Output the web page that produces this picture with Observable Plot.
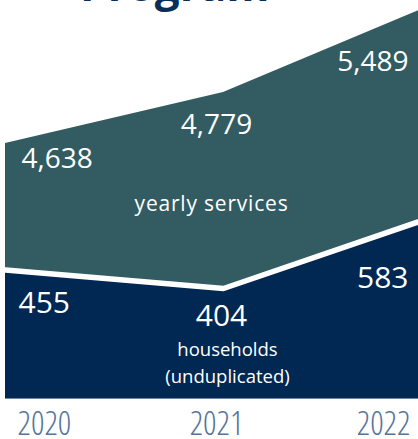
<!DOCTYPE html>
<html><head><meta charset="utf-8">
<script src="https://cdn.jsdelivr.net/npm/d3@7"></script>
<script src="https://cdn.jsdelivr.net/npm/@observablehq/plot@0.6"></script>
<style>
body{margin:0;background:#fff;font-family:"Open Sans",sans-serif;}
#wrap{position:relative;width:418px;height:439px;overflow:hidden;}
#title{position:absolute;left:80px;top:-38px;font:700 44px/44px "Open Sans",sans-serif;color:#0b2d5a;margin:0;white-space:nowrap;}
</style></head><body>
<div id="wrap"><div id="title">Program</div><div id="chart"></div></div>
<script>
// ---- data ----
const years = [2020, 2021, 2022];
const yearLabels = ["2020", "2021", "2022"];
const services = [4638, 4779, 5489];
const households = [455, 404, 583];
// drawn band edges (visual heights read off the infographic, which is not to scale)
const splitEdge = [128.5, 110, 184.5];
const topEdge = [255, 306, 397.5];
const seriesNames = ["yearly services", "households\n(unduplicated)"];

const rows = years.map((year, i) => ({
  year, label: yearLabels[i], services: services[i], households: households[i],
  split: splitEdge[i], top: topEdge[i]
}));

const NAVY = "#002852", TEAL = "#335c62", YEARC = "#56749a";
const fmt = d3.format(",");

const topCfg = [
  {dx: 16, dy: 24, anchor: "start"},
  {dx: -7, dy: 41, anchor: "middle"},
  {dx: -33, dy: 69.5, anchor: "end"}
];
const botCfg = [
  {dx: 13, dy: 42.5, anchor: "start"},
  {dx: -2, dy: 37, anchor: "middle"},
  {dx: -33, dy: 73.5, anchor: "end"}
];
const yearCfg = [
  {dx: 12, anchor: "start"},
  {dx: -7, anchor: "middle"},
  {dx: -31, anchor: "end"}
];

const marks = [
  Plot.areaY(rows, {x: "year", y1: 0, y2: "split", fill: NAVY}),
  Plot.areaY(rows, {x: "year", y1: "split", y2: "top", fill: TEAL}),
  Plot.lineY(rows, {x: "year", y: "split", stroke: "white", strokeWidth: 5.5}),
  Plot.ruleY([0], {x1: 2020, x2: 2022, stroke: "#6d86a3", strokeWidth: 1})
];
rows.forEach((r, i) => {
  marks.push(Plot.text([r], {x: "year", y: "top", text: d => fmt(d.services),
    dx: topCfg[i].dx, dy: topCfg[i].dy, textAnchor: topCfg[i].anchor, lineAnchor: "bottom",
    fill: "white", fontSize: 28}));
  marks.push(Plot.text([r], {x: "year", y: "split", text: d => fmt(d.households),
    dx: botCfg[i].dx, dy: botCfg[i].dy, textAnchor: botCfg[i].anchor, lineAnchor: "bottom",
    fill: "white", fontSize: 30}));
  marks.push(Plot.text([r], {x: "year", y: 0, text: "label",
    dx: yearCfg[i].dx, dy: 36, textAnchor: yearCfg[i].anchor, lineAnchor: "bottom",
    fill: YEARC, fontSize: 33, fontWeight: 300}));
});
marks.push(Plot.text([rows[1]], {x: "year", y: "split", text: () => seriesNames[0],
  dx: -12, dy: -78, lineAnchor: "bottom", fill: "white", fontSize: 21}));
marks.push(Plot.text([rows[1]], {x: "year", y: 0, text: () => seriesNames[1],
  dx: 4, dy: -16, lineAnchor: "bottom", lineHeight: 1.42, fill: "white", fontSize: 18.5}));

const chart = Plot.plot({
  width: 418, height: 439,
  marginTop: 0, marginBottom: 41, marginLeft: 0, marginRight: 0,
  x: {domain: [2020, 2022], range: [5, 441], axis: null},
  y: {domain: [0, 398], range: [398, 0], axis: null},
  style: {fontFamily: "'Open Sans', sans-serif", background: "transparent", overflow: "hidden"},
  marks
});
document.getElementById("chart").appendChild(chart);
d3.select(chart).selectAll("text").filter(function() { return this.textContent === seriesNames[0]; })
  .style("letter-spacing", "0.8px");
d3.select(chart).selectAll("text").filter(function() { return yearLabels.includes(this.textContent); })
  .style("font-stretch", "condensed");
</script>
</body></html>
